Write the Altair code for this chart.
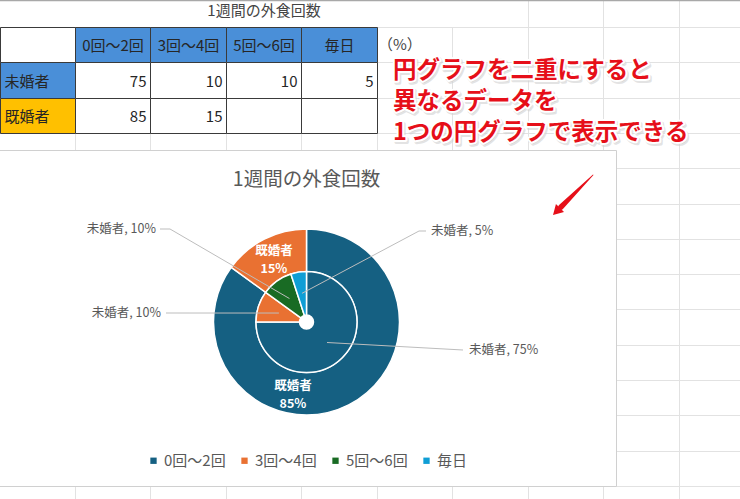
import altair as alt
import pandas as pd
import numpy as np

# ---------------- data ----------------
categories = ["0回～2回", "3回～4回", "5回～6回", "毎日"]
groups = ["未婚者", "既婚者"]
unmarried = [75, 10, 10, 5]          # inner pie
married = [85, 15, None, None]       # outer ring
title_text = "1週間の外食回数"
unit_text = "（%）"
note_lines = ["円グラフを二重にすると", "異なるデータを", "1つの円グラフで表示できる"]

# ---------------- style / layout ----------------
FONT = "Noto Sans CJK JP"
colors = ["#156082", "#E97132", "#196B24", "#0F9ED5"]
W, H = 740, 499
COL_W, COL0 = 75.45, -0.5
ROW_H, ROW0 = 35.3, 27
CX, CY = 306.5, 322
R_OUT, R_MID, R_HOLE = 93, 50.5, 7
R_ANCHOR = 29
GRID = "#e2e2e2"
LABEL_GRAY = "#595959"

# label placements (layout only)
INNER_LABEL = {
    "0回～2回": dict(tx=469, ty=350, align="left", path=[(463, 350)]),
    "3回～4回": dict(tx=161, ty=313, align="right", path=[(166, 313)]),
    "5回～6回": dict(tx=156, ty=229, align="right", path=[(170, 229), (160, 229)]),
    "毎日": dict(tx=431, ty=231, align="left", path=[(419, 231), (426, 231)]),
}
OUTER_LABEL = {"0回～2回": (293, 386), "3回～4回": (274, 251)}
ARROW_TRAIL = [(593, 175, 0.8), (561, 207, 5.5)]
ARROW_HEAD = (556.5, 211.5)

xs = alt.Scale(domain=[0, W], nice=False, zero=False)
ys = alt.Scale(domain=[0, H], nice=False, zero=False, reverse=True)


def X(f):
    return alt.X(f, type="quantitative", scale=xs, axis=None)


def Y(f):
    return alt.Y(f, type="quantitative", scale=ys, axis=None)


def crisp(v):
    return round(v) + 0.5


layers = []

# ---- spreadsheet grid ----
vl = []
for k in range(1, 10):
    vl.append(dict(x=crisp(COL0 + k * COL_W), y=0 if k >= 7 else ROW0, y2=H))
hl = [dict(y=crisp(ROW0 + k * ROW_H), x=0, x2=W) for k in range(0, 14)]
layers.append(alt.Chart(pd.DataFrame(vl)).mark_rule(color=GRID, strokeWidth=1).encode(
    x=X("x"), y=Y("y"), y2="y2"))
layers.append(alt.Chart(pd.DataFrame(hl)).mark_rule(color=GRID, strokeWidth=1).encode(
    x=X("x"), x2="x2", y=Y("y")))
layers.append(alt.Chart(pd.DataFrame([dict(x=0, x2=W, y=0.5)])).mark_rule(
    color="#a8a8a8", strokeWidth=1.5).encode(x=X("x"), x2="x2", y=Y("y")))

# ---- sheet title and unit ----
layers.append(alt.Chart(pd.DataFrame([dict(x=264, y=11, t=title_text)])).mark_text(
    font=FONT, fontSize=15, color="#444444", align="center", baseline="middle").encode(
    x=X("x"), y=Y("y"), text="t:N"))
layers.append(alt.Chart(pd.DataFrame([dict(x=378, y=45, t=unit_text)])).mark_text(
    font=FONT, fontSize=15, color="#444444", align="left", baseline="middle").encode(
    x=X("x"), y=Y("y"), text="t:N"))

# ---- data table ----
cells, ctext = [], []
rows = [[""] + categories,
        [groups[0]] + [str(v) for v in unmarried],
        [groups[1]] + ["" if v is None else str(v) for v in married]]
for r in range(3):
    for c in range(5):
        x1 = crisp(COL0 + c * COL_W)
        x2 = crisp(COL0 + (c + 1) * COL_W)
        y1 = crisp(ROW0 + r * ROW_H)
        y2 = crisp(ROW0 + (r + 1) * ROW_H)
        if (r == 0 and c >= 1) or (r == 1 and c == 0):
            fill = "#4a8fd8"
        elif r == 2 and c == 0:
            fill = "#ffc000"
        else:
            fill = "#ffffff"
        cells.append(dict(x=x1, x2=x2, y=y1, y2=y2, fill=fill))
        txt = rows[r][c]
        if txt:
            if r == 0:
                ctext.append(dict(x=(x1 + x2) / 2, y=(y1 + y2) / 2 + 1, t=txt, a="center"))
            elif c == 0:
                ctext.append(dict(x=x1 + 4, y=(y1 + y2) / 2 + 1, t=txt, a="left"))
            else:
                ctext.append(dict(x=x2 - 4, y=(y1 + y2) / 2 + 1, t=txt, a="right"))
layers.append(alt.Chart(pd.DataFrame(cells)).mark_rect(stroke="#3a3a3a", strokeWidth=1).encode(
    x=X("x"), x2="x2", y=Y("y"), y2="y2", fill=alt.Fill("fill:N", scale=None)))
ct = pd.DataFrame(ctext)
for a in ["center", "left", "right"]:
    layers.append(alt.Chart(ct[ct.a == a]).mark_text(
        font=FONT, fontSize=15, color="#262626", align=a, baseline="middle").encode(
        x=X("x"), y=Y("y"), text="t:N"))

# ---- red annotation (white halo + soft shadow via stroke on one text mark) ----
note = pd.DataFrame([dict(x=393, y=y, t=t) for y, t in zip([71, 102, 133], note_lines)])
layers.append(alt.Chart(note).mark_text(
    font=FONT, fontSize=23.5, fontWeight="bold", align="left", baseline="middle",
    color="#d0d0d0", stroke="#d0d0d0", strokeWidth=4, strokeOpacity=0.6, dx=1.5, dy=2,
    strokeJoin="round").encode(x=X("x"), y=Y("y"), text="t:N"))
layers.append(alt.Chart(note).mark_text(
    font=FONT, fontSize=23.5, fontWeight="bold", align="left", baseline="middle",
    color="#ffffff", stroke="#ffffff", strokeWidth=4, strokeJoin="round").encode(
    x=X("x"), y=Y("y"), text="t:N"))
layers.append(alt.Chart(note).mark_text(
    font=FONT, fontSize=23.5, fontWeight="bold", align="left", baseline="middle",
    color="#e60f19").encode(x=X("x"), y=Y("y"), text="t:N"))

# ---- chart box ----
layers.append(alt.Chart(pd.DataFrame([dict(x=-2, x2=616.5, y=150.5, y2=486.5)])).mark_rect(
    fill="white", stroke="#d0d0d0", strokeWidth=1).encode(
    x=X("x"), x2="x2", y=Y("y"), y2="y2"))
layers.append(alt.Chart(pd.DataFrame([dict(x=CX, y=180, t=title_text)])).mark_text(
    font=FONT, fontSize=19.5, color=LABEL_GRAY, align="center", baseline="middle").encode(
    x=X("x"), y=Y("y"), text="t:N"))

# ---- pies ----
color_scale = alt.Scale(domain=categories, range=colors)
legend = alt.Legend(orient="none", legendX=146, legendY=453, direction="horizontal",
                    title=None, symbolType="square", symbolSize=40, symbolStrokeWidth=0,
                    labelFontSize=15, labelColor=LABEL_GRAY, labelFont=FONT,
                    labelOffset=3, columnPadding=11, padding=0, labelLimit=200)

inner_df = pd.DataFrame(dict(cat=categories, v=unmarried, idx=range(4)))
outer_df = pd.DataFrame(dict(cat=categories, v=married, idx=range(4))).dropna()

outer = alt.Chart(outer_df).mark_arc(radius=R_OUT, radius2=R_MID, stroke="white",
                                     strokeWidth=1.5).encode(
    theta=alt.Theta("v:Q", stack=True),
    color=alt.Color("cat:N", scale=color_scale, legend=legend),
    order=alt.Order("idx:Q"),
    x=alt.value(CX), y=alt.value(CY))
inner = alt.Chart(inner_df).mark_arc(radius=R_MID, radius2=R_HOLE, stroke="white",
                                     strokeWidth=1.5).encode(
    theta=alt.Theta("v:Q", stack=True),
    color=alt.Color("cat:N", scale=color_scale, legend=legend),
    order=alt.Order("idx:Q"),
    x=alt.value(CX), y=alt.value(CY))
layers += [outer, inner]

# outer ring labels (white, bold, two lines)
olab = []
for cat, v in zip(categories, married):
    if v is None:
        continue
    px, py = OUTER_LABEL[cat]
    olab.append(dict(x=px, y=py, t=groups[1]))
    olab.append(dict(x=px, y=py + 17.5, t=f"{v}%"))
layers.append(alt.Chart(pd.DataFrame(olab)).mark_text(
    font=FONT, fontSize=12.5, fontWeight="bold", color="white", align="center",
    baseline="middle").encode(x=X("x"), y=Y("y"), text="t:N"))

# inner labels with leader lines (anchors from slice mid-angles)
tot = float(sum(unmarried))
cum = 0.0
lines, ilab = [], []
for cat, v in zip(categories, unmarried):
    mid = (cum + v / 2) / tot * 2 * np.pi
    cum += v
    ax, ay = CX + R_ANCHOR * np.sin(mid), CY - R_ANCHOR * np.cos(mid)
    spec = INNER_LABEL[cat]
    pts = [(ax, ay)] + spec["path"]
    for i, (px, py) in enumerate(pts):
        lines.append(dict(cat=cat, o=i, x=px, y=py))
    ilab.append(dict(x=spec["tx"], y=spec["ty"], t=f"{groups[0]}, {v}%", a=spec["align"]))
layers.append(alt.Chart(pd.DataFrame(lines)).mark_line(color="#bdbdbd", strokeWidth=1).encode(
    x=X("x"), y=Y("y"), detail="cat:N", order="o:Q"))
il = pd.DataFrame(ilab)
for a in ["left", "right"]:
    layers.append(alt.Chart(il[il.a == a]).mark_text(
        font=FONT, fontSize=12.5, color=LABEL_GRAY, align=a, baseline="middle").encode(
        x=X("x"), y=Y("y"), text="t:N"))

# ---- red arrow ----
layers.append(alt.Chart(pd.DataFrame([dict(x=x, y=y, s=s, o=i) for i, (x, y, s) in
                                      enumerate(ARROW_TRAIL)])).mark_trail(color="#e60f19").encode(
    x=X("x"), y=Y("y"), size=alt.Size("s:Q", scale=None), order="o:Q"))
layers.append(alt.Chart(pd.DataFrame([dict(x=ARROW_HEAD[0], y=ARROW_HEAD[1])])).mark_point(
    shape="triangle-up", filled=True, color="#e60f19", opacity=1, size=130, angle=225).encode(
    x=X("x"), y=Y("y")))

chart = alt.layer(*layers).properties(
    width=W, height=H, padding=0, autosize="none", background="white"
).configure_view(stroke=None)

chart.save("out.html", embed_options={"renderer": "svg", "actions": False})
